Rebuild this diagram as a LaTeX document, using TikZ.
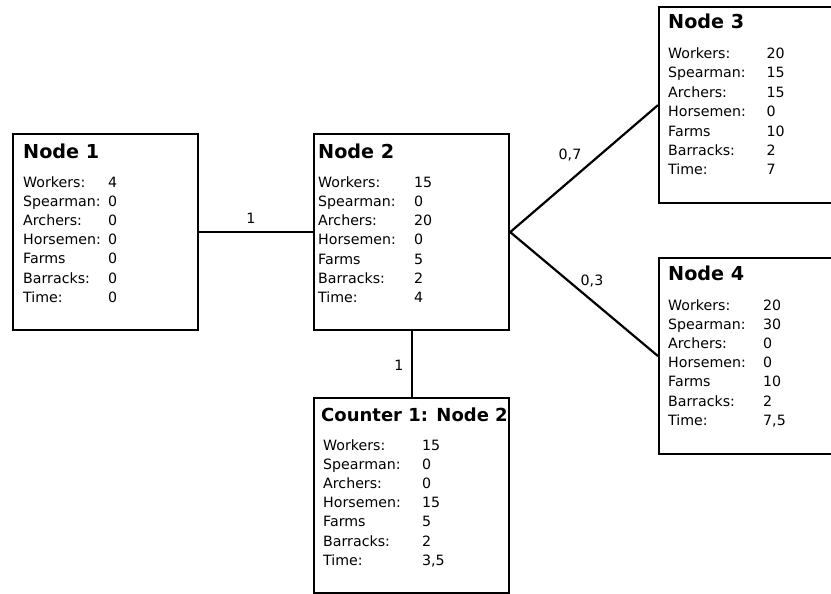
\documentclass[tikz,border=0pt]{standalone}
\usepackage{fontspec}
\setmainfont{DejaVu Sans}
\tikzset{
  statbox/.style={draw=black, line width=2.2pt, rectangle, anchor=north west,
    minimum width=195pt, minimum height=196pt, inner sep=0pt},
  boxtitle/.style={anchor=base west, inner sep=0pt, font=\fontsize{19.2}{23}\selectfont\bfseries},
  rowtext/.style={anchor=base west, inner sep=0pt, font=\fontsize{14.2}{17}\selectfont},
  edgelabel/.style={anchor=base, inner sep=0pt, font=\fontsize{14.2}{17}\selectfont},
  link/.style={line width=2.2pt, black}
}
% rows of one box: #1 name prefix, #2 label x, #3 value x, #4 first baseline, #5 step, #6 rows
\newcommand\statrows[6]{%
  \foreach \lab/\val [count=\i from 0] in {#6}{
    \node[rowtext] (#1-lab\i) at (#2,#4+#5*\i) {\lab};
    \node[rowtext] (#1-val\i) at (#3,#4+#5*\i) {\val};
  }%
}
\begin{document}
\begin{tikzpicture}[x=1pt,y=-1pt]
\begin{scope}
  \clip (0,0) rectangle (831,594);
  % boxes
  \node[statbox, minimum width=185pt] (n1) at (12,133) {};
  \node[statbox] (n2) at (313,133) {};
  \node[statbox] (n3) at (658,6) {};
  \node[statbox] (n4) at (658,257) {};
  \node[statbox, minimum height=195pt] (c1) at (313,397) {};

  % connectors
  \draw[link] (n1.east) -- (n2.west);
  \draw[link] (n2.east) -- (n3.west);
  \draw[link] (n2.east) -- (n4.west);
  \draw[link] (n2.south) -- (c1.north);

  % connector labels
  \node[edgelabel] (l12) at (251,223) {1};
  \node[edgelabel] (l23) at (570,160) {0,7};
  \node[edgelabel] (l24) at (592,285) {0,3};
  \node[edgelabel] (l2c) at (399,370) {1};

  % Node 1
  \node[boxtitle] (t1) at (23,158) {Node 1};
  \statrows{n1}{23}{108}{187}{19.2}{Workers:/4, Spearman:/0, Archers:/0, Horsemen:/0, Farms/0, Barracks:/0, Time:/0}

  % Node 2
  \node[boxtitle] (t2) at (318,158) {Node 2};
  \statrows{n2}{318}{414}{187}{19.3}{Workers:/15, Spearman:/0, Archers:/20, Horsemen:/0, Farms/5, Barracks:/2, Time:/4}

  % Node 3
  \node[boxtitle] (t3) at (668,29) {Node 3};
  \statrows{n3}{668}{766.5}{58.3}{19.45}{Workers:/20, Spearman:/15, Archers:/15, Horsemen:/0, Farms/10, Barracks:/2, Time:/7}

  % Node 4
  \node[boxtitle] (t4) at (668,280.5) {Node 4};
  \statrows{n4}{668}{763}{310}{19.2}{Workers:/20, Spearman:/30, Archers:/0, Horsemen:/0, Farms/10, Barracks:/2, Time:/{7,5}}

  % Counter 1 (longer title, set a little smaller to fit its box)
  \node[boxtitle, font=\fontsize{18}{21}\selectfont\bfseries] (tc) at (321,421) {Counter 1: Node 2};
  \statrows{c1}{323}{422}{450}{19.2}{Workers:/15, Spearman:/0, Archers:/0, Horsemen:/15, Farms/5, Barracks:/2, Time:/{3,5}}
\end{scope}
\pgfresetboundingbox
\useasboundingbox (0,0) rectangle (831,594);
\end{tikzpicture}
\end{document}
